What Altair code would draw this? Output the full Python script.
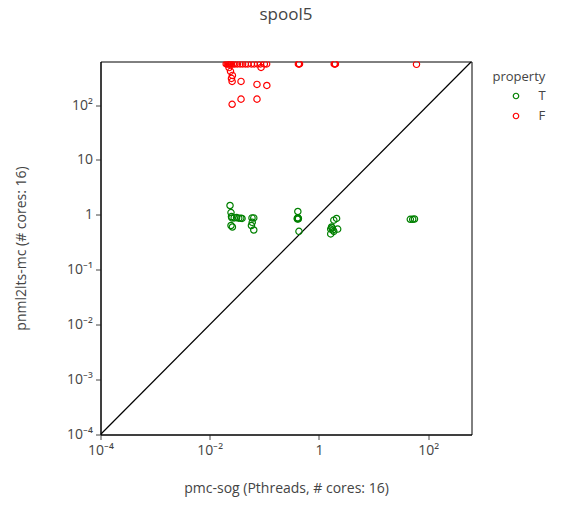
import altair as alt
import pandas as pd

# Runtimes (seconds) for each instance: x = pmc-sog, y = pnml2lts-mc
t_x = [0.0235, 0.0245, 0.025, 0.0255, 0.026, 0.0245, 0.028, 0.031, 0.034, 0.037,
       0.039, 0.0594, 0.064, 0.060, 0.058, 0.064,
       0.41, 0.41, 0.42, 0.40, 0.415, 0.405, 0.43,
       1.64, 1.70, 1.87, 2.10, 1.64, 1.87, 2.20, 1.80, 1.75,
       47.0, 52.0, 56.0]
t_y = [1.48, 1.10, 0.93, 0.88, 0.60, 0.64, 0.88, 0.89, 0.87, 0.87,
       0.86, 0.88, 0.88, 0.73, 0.64, 0.53,
       1.15, 0.88, 0.85, 0.86, 0.87, 0.84, 0.50,
       0.55, 0.60, 0.80, 0.86, 0.45, 0.50, 0.55, 0.53, 0.58,
       0.83, 0.83, 0.84]

f_x = [0.020, 0.021, 0.022, 0.023, 0.024, 0.025, 0.027, 0.029, 0.032, 0.036,
       0.040, 0.045, 0.050, 0.058, 0.065, 0.075, 0.085, 0.100, 0.110,
       0.42, 0.43, 0.44, 1.90, 1.95, 2.00, 61.0,
       0.0225, 0.024, 0.026, 0.025, 0.0257, 0.0374, 0.0733, 0.111,
       0.0257, 0.0374, 0.0733, 0.087]
f_y = [560, 560, 560, 560, 560, 560, 560, 560, 560, 560,
       560, 560, 560, 560, 560, 560, 560, 560, 560,
       560, 560, 560, 560, 560, 560, 550,
       480, 410, 346, 305, 269, 269, 237, 227,
       103, 128, 128, 484]

# Axis range and decade ticks
axis_min = 1e-4
axis_max = 620
x_ticks = [1e-4, 1e-2, 1, 100]
y_ticks = [1e-4, 1e-3, 1e-2, 1e-1, 1, 10, 100]
tick_text = {1e-4: "10⁻⁴", 1e-3: "10⁻³", 1e-2: "10⁻²", 1e-1: "10⁻¹",
             1: "1", 10: "10", 100: "10²"}


def label_expr(values):
    vals = ",".join(repr(float(v)) for v in values)
    labs = ",".join("'" + tick_text[v] + "'" for v in values)
    return f"[{labs}][indexof([{vals}], datum.value)]"


points = pd.concat([
    pd.DataFrame({"x": t_x, "y": t_y, "property": "T"}),
    pd.DataFrame({"x": f_x, "y": f_y, "property": "F"}),
])
diag = pd.DataFrame({"x": [axis_min, axis_max], "y": [axis_min, axis_max]})

FONT = "Open Sans"
GREY = "#444"

xscale = alt.Scale(type="log", domain=[axis_min, axis_max], nice=False)
yscale = alt.Scale(type="log", domain=[axis_min, axis_max], nice=False)

x_axis = alt.Axis(values=x_ticks, labelExpr=label_expr(x_ticks), grid=False,
                  domain=True, domainColor="black", domainWidth=1,
                  tickColor=GREY, tickSize=5, labelFontSize=14,
                  labelFont=FONT, labelColor=GREY, title="pmc-sog (Pthreads, # cores: 16)",
                  titleFont=FONT, titleFontSize=14, titleColor=GREY,
                  titleFontWeight="normal", titlePadding=24, labelPadding=4,
                  labelFlush=False)
y_axis = alt.Axis(values=y_ticks, labelExpr=label_expr(y_ticks), grid=False,
                  domain=True, domainColor="black", domainWidth=1,
                  tickColor=GREY, tickSize=5, labelFontSize=14,
                  labelFont=FONT, labelColor=GREY, title="pnml2lts-mc (# cores: 16)",
                  titleFont=FONT, titleFontSize=14, titleColor=GREY,
                  titleFontWeight="normal", titlePadding=38, labelPadding=3,
                  labelFlush=False)

line = alt.Chart(diag).mark_line(color="black", strokeWidth=1.2, clip=True).encode(
    x=alt.X("x:Q", scale=xscale, axis=x_axis),
    y=alt.Y("y:Q", scale=yscale, axis=y_axis),
)

dots = alt.Chart(points).mark_point(shape="circle", filled=False, size=40,
                                    strokeWidth=1.2, opacity=1, clip=True).encode(
    x=alt.X("x:Q", scale=xscale, axis=x_axis),
    y=alt.Y("y:Q", scale=yscale, axis=y_axis),
    color=alt.Color("property:N",
                    scale=alt.Scale(domain=["T", "F"], range=["green", "red"]),
                    legend=alt.Legend(title="property", orient="none", legendX=392,
                                      legendY=9, titleFont=FONT, titleFontSize=13,
                                      titleColor=GREY, titleFontWeight="normal",
                                      labelFont=FONT, labelFontSize=13,
                                      labelColor=GREY, symbolSize=30,
                                      symbolStrokeWidth=1.2, rowPadding=6,
                                      labelOffset=16, titlePadding=6,
                                      symbolOffset=17)),
)

chart = (line + dots).properties(
    width=371, height=373,
    title=alt.TitleParams("spool5", anchor="middle", fontSize=17, font=FONT,
                          color=GREY, fontWeight="normal", offset=38),
    autosize=alt.AutoSizeParams(type="none"),
    padding={"left": 100.5, "top": 61.5, "right": 91.5, "bottom": 71.5},
    view=alt.ViewBackground(stroke="#000000", strokeWidth=1, strokeOpacity=1),
).configure_view(stroke="#000000", strokeWidth=1).configure(background="white")

chart.save("out.html", embed_options={"renderer": "svg", "actions": False})
